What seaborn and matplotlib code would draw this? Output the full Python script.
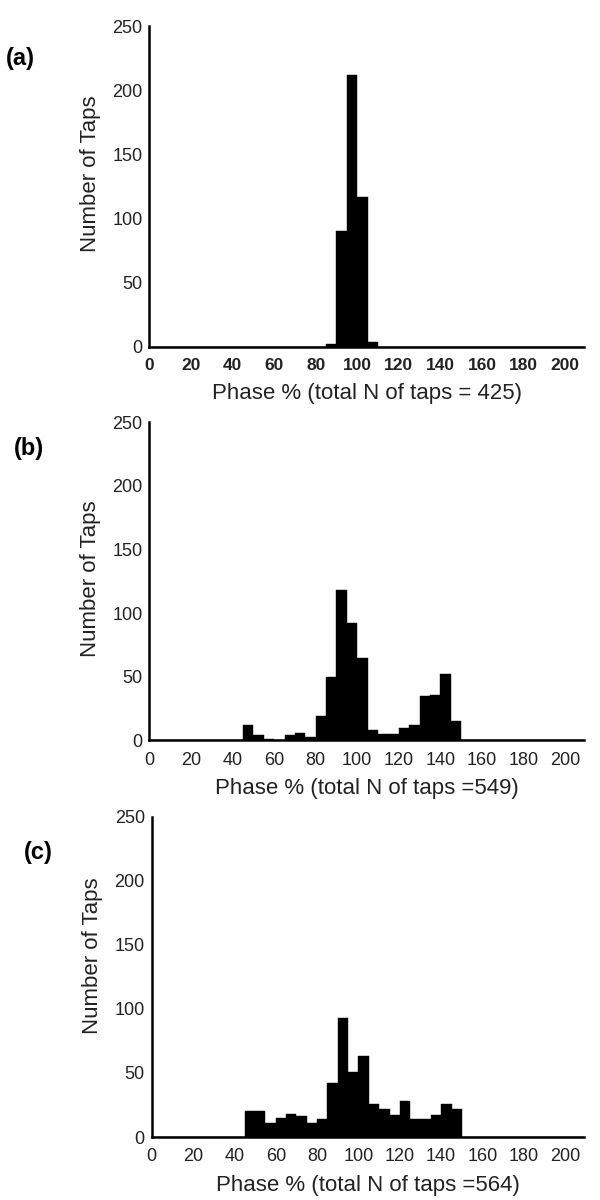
import numpy as np
import pandas as pd
import matplotlib
matplotlib.use("Agg")
import matplotlib.pyplot as plt
import seaborn as sns

# ---- data (bin left edges, 5 % wide, and counts) ----
bin_width = 5
a_starts = [85, 90, 95, 100, 105]
a_counts = [2, 90, 212, 117, 4]

b_starts = list(range(45, 150, 5))
b_counts = [12, 4, 1, 0, 4, 6, 3, 19, 50, 118, 92, 65, 8, 5, 5, 10, 12, 35, 36, 52, 15]

c_starts = list(range(45, 150, 5))
c_counts = [20, 20, 11, 15, 18, 16, 11, 14, 42, 93, 51, 63, 26, 22, 17, 28, 14, 14, 17, 26, 22]

panel_letters = ["(a)", "(b)", "(c)"]
x_labels = ["Phase % (total N of taps = 425)",
            "Phase % (total N of taps =549)",
            "Phase % (total N of taps =564)"]
y_label = "Number of Taps"
x_ticks = list(range(0, 201, 20))
y_ticks = list(range(0, 251, 50))

sns.set_theme(style="white")
plt.rcParams["font.family"] = ["Liberation Sans", "DejaVu Sans"]

fig = plt.figure(figsize=(6, 12), dpi=100)

# axes rectangles in figure fractions [left, bottom, width, height]
rects = [
    [0.249, 0.711, 0.724, 0.267],
    [0.249, 0.383, 0.724, 0.265],
    [0.253, 0.0525, 0.720, 0.267],
]
label_pos = [(58, 0.54), (448, 0.51), (852, 0.567)]
letter_x = [6 / 600, 14 / 600, 24 / 600]

datasets = [(a_starts, a_counts), (b_starts, b_counts), (c_starts, c_counts)]
text_col = "#222222"

for i, ((starts, counts), rect) in enumerate(zip(datasets, rects)):
    ax = fig.add_axes(rect)
    df = pd.DataFrame({"x": np.array(starts, dtype=float) + bin_width / 2,
                       "n": np.array(counts, dtype=float)})
    sns.histplot(data=df, x="x", weights="n", binwidth=bin_width, binrange=(0, 210),
                 ax=ax, color="black", alpha=1, edgecolor="black", linewidth=0.3,
                 element="bars", fill=True)
    ax.set_xlim(0, 209)
    ax.set_ylim(0, 250)
    ax.set_xticks(x_ticks)
    ax.set_yticks(y_ticks)
    for s in ["top", "right"]:
        ax.spines[s].set_visible(False)
    for s in ["left", "bottom"]:
        ax.spines[s].set_color("black")
        ax.spines[s].set_linewidth(1.8)
    ax.tick_params(axis="both", length=0, labelsize=13, colors=text_col)
    ax.tick_params(axis="x", pad=8)
    ax.tick_params(axis="y", pad=5)
    if i == 0:
        for t in ax.get_xticklabels():
            t.set_fontweight("bold")
            t.set_fontsize(12.5)
    ax.set_xlabel(x_labels[i], fontsize=16, color=text_col, labelpad=7)
    ax.set_ylabel(y_label, fontsize=16, color=text_col)
    ax.yaxis.set_label_coords(-0.112, label_pos[i][1])
    fig.text(letter_x[i], 1 - label_pos[i][0] / 1200, panel_letters[i],
             fontsize=17, fontweight="bold", ha="left", va="center", color="black")

fig.savefig("out.png", dpi=100)
